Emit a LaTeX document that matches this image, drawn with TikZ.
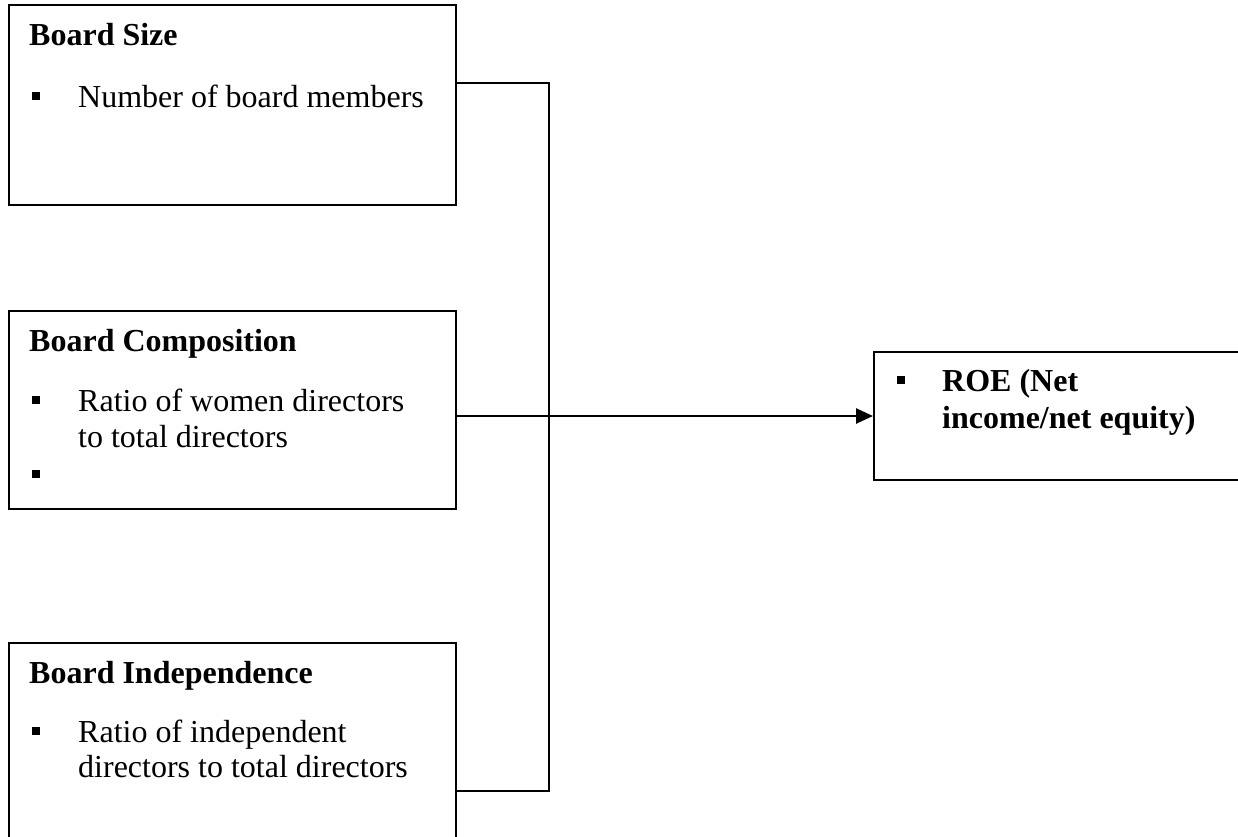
\documentclass[tikz,border=0pt]{standalone}
\usepackage{fontspec}
\setmainfont{Liberation Serif}
\usetikzlibrary{arrows.meta}
\begin{document}
\begin{tikzpicture}[x=1pt,y=-1pt,
  box/.style={draw,line width=2pt,inner sep=0pt,anchor=north west},
  conn/.style={line width=2.5pt},
  ttl/.style={anchor=base west,inner sep=0pt,font=\fontsize{32}{36}\selectfont\bfseries},
  txt/.style={anchor=base west,inner sep=0pt,font=\fontsize{32}{36}\selectfont},
  btxt/.style={anchor=base west,inner sep=0pt,font=\fontsize{32}{36}\selectfont\bfseries},
  bul/.style={fill,inner sep=0pt,minimum size=8pt}]
\useasboundingbox (0,0) rectangle (1238,836);
\clip (0,0) rectangle (1238,836);
% boxes
\node[box,minimum width=447pt,minimum height=200pt] (size) at (8,4) {};
\node[box,minimum width=447pt,minimum height=198pt] (comp) at (8,310) {};
\node[box,minimum width=447pt,minimum height=200pt] (indep) at (8,642) {};
\node[box,minimum width=380pt,minimum height=128pt] (roe) at (873,351) {};
% Board Size
\node[ttl] (t1) at (29,45) {Board Size};
\node[bul] (b1) at (36,96) {};
\node[txt] (l1) at (78,107) {Number of board members};
% Board Composition
\node[ttl] (t2) at (29,351) {Board Composition};
\node[bul] (b2) at (36,400) {};
\node[txt] (l2a) at (78,411) {Ratio of women directors};
\node[txt] (l2b) at (78,447) {to total directors};
\node[bul] (b2b) at (36,474) {};
% Board Independence
\node[ttl] (t3) at (29,683) {Board Independence};
\node[bul] (b3) at (36,731) {};
\node[txt] (l3a) at (78,742) {Ratio of independent};
\node[txt] (l3b) at (78,777) {directors to total directors};
% ROE
\node[bul] (b4) at (901,380) {};
\node[btxt] (r1) at (942,391) {ROE (Net};
\node[btxt] (r2) at (942,428) {income/net equity)};
% connectors
\coordinate (j1) at (549,83);
\coordinate (j3) at (549,791);
\coordinate (ja) at (549,416);
\draw[conn] (size.east |- j1) -- (j1) -- (j3) -- (indep.east |- j3);
\draw[conn,-{Triangle[length=17pt,width=15pt]}] (comp.east |- ja) -- (roe.west |- ja);
\end{tikzpicture}
\end{document}
